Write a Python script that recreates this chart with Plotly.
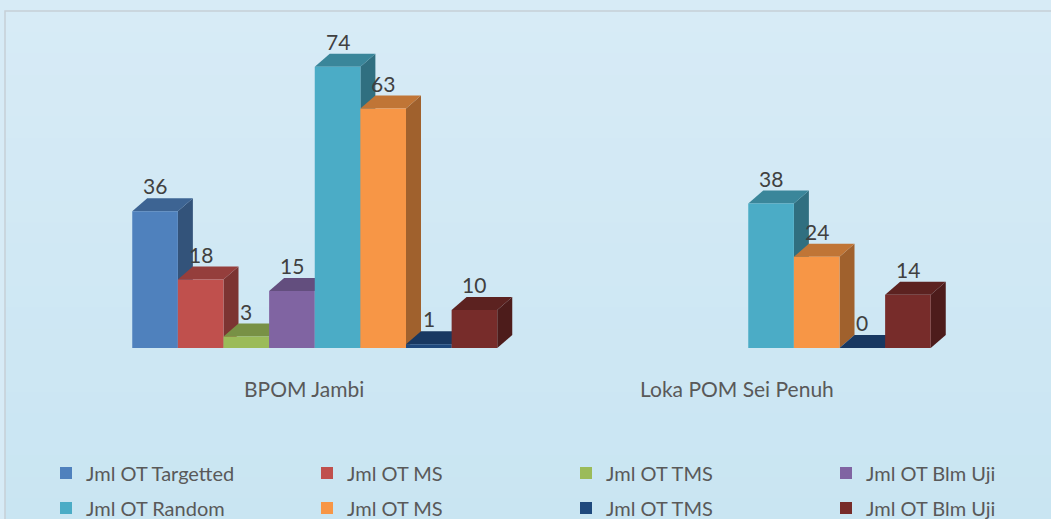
import plotly.graph_objects as go

# ---------------------------------------------------------------- data
categories = ["BPOM Jambi", "Loka POM Sei Penuh"]
series_names = ["Jml OT Targetted", "Jml OT MS", "Jml OT TMS", "Jml OT Blm Uji",
                "Jml OT Random", "Jml OT MS", "Jml OT TMS", "Jml OT Blm Uji"]
targetted = [36, None]
ms_targetted = [18, None]
tms_targetted = [3, None]
blm_uji_targetted = [15, None]
random_ = [74, 38]
ms_random = [63, 24]
tms_random = [1, 0]
blm_uji_random = [10, 14]
series_values = [targetted, ms_targetted, tms_targetted, blm_uji_targetted,
                 random_, ms_random, tms_random, blm_uji_random]
colors = ["#4F81BD", "#C0504D", "#9BBB59", "#8064A2",
          "#4BACC6", "#F79646", "#1F497D", "#772C2A"]

# ---------------------------------------------------------------- geometry
W, H = 1051, 519
ML, MR, MT, MB = 98, 86, 44, 171
Y_MAX = 80
BARGAP = 0.158
plot_w = W - ML - MR
plot_h = H - MT - MB
px_per_cat = plot_w / len(categories)
px_per_unit = plot_h / Y_MAX
DX = 15 / px_per_cat      # depth offset, in category units
DY = 13 / px_per_unit     # depth offset, in value units
n = len(series_values)
bw = (1 - BARGAP) / n

FONT = "Lato"


def shade(hex_color, f):
    r, g, b = (int(hex_color[i:i + 2], 16) for i in (1, 3, 5))
    return "#%02x%02x%02x" % (int(r * f), int(g * f), int(b * f))


def mix(c1, c2, t):
    a = [int(c1[i:i + 2], 16) for i in (1, 3, 5)]
    b = [int(c2[i:i + 2], 16) for i in (1, 3, 5)]
    return "#%02x%02x%02x" % tuple(int(round(p + (q - p) * t)) for p, q in zip(a, b))


def px_to_paper_x(px):
    return (px - ML) / plot_w


def px_to_paper_y(py):
    return (MT + plot_h - py) / plot_h


fig = go.Figure()
for i, (name, vals, col) in enumerate(zip(series_names, series_values, colors)):
    fig.add_trace(go.Bar(
        x=list(range(len(categories))), y=vals, name=name,
        marker=dict(color=col, line=dict(width=0)),
        legend="legend" if i == 0 else f"legend{i + 1}",
        hoverinfo="skip",
    ))

shapes = []
annotations = []

# soft vertical gradient behind the chart
BANDS = 24
for k in range(BANDS):
    y0 = 11 + (H - 11) * k / BANDS
    y1 = 11 + (H - 11) * (k + 1) / BANDS + 1
    shapes.append(dict(
        type="rect", xref="paper", yref="paper", layer="below",
        x0=px_to_paper_x(5), x1=px_to_paper_x(W + 5),
        y0=px_to_paper_y(y1), y1=px_to_paper_y(y0),
        fillcolor=mix("#d7ebf6", "#c9e5f2", k / (BANDS - 1)), line=dict(width=0)))

for i, (vals, col) in enumerate(zip(series_values, colors)):
    for c, v in enumerate(vals):
        if v is None:
            continue
        x0 = c - (1 - BARGAP) / 2 + i * bw
        x1 = x0 + bw
        # side face
        shapes.append(dict(
            type="path", layer="below", xref="x", yref="y",
            path=f"M{x1},0 L{x1 + DX},{DY} L{x1 + DX},{v + DY} L{x1},{v} Z",
            fillcolor=shade(col, 0.65), line=dict(width=0)))
        # top face
        shapes.append(dict(
            type="path", layer="below", xref="x", yref="y",
            path=f"M{x0},{v} L{x1},{v} L{x1 + DX},{v + DY} L{x0 + DX},{v + DY} Z",
            fillcolor=shade(col, 0.78), line=dict(width=0)))
        annotations.append(dict(
            x=(x0 + x1) / 2, y=v, xref="x", yref="y", text=str(v),
            showarrow=False, yanchor="bottom", yshift=11,
            font=dict(family=FONT, size=21, color="#404040")))

for c, cat in enumerate(categories):
    annotations.append(dict(
        x=c, y=0, xref="x", yref="y", text=cat, showarrow=False,
        yanchor="middle", yshift=-40, xshift=-11,
        font=dict(family=FONT, size=21, color="#595959")))

# chart frame
shapes.append(dict(
    type="rect", xref="paper", yref="paper", layer="below",
    x0=px_to_paper_x(5), x1=px_to_paper_x(W + 10),
    y0=px_to_paper_y(H + 10), y1=px_to_paper_y(11),
    line=dict(color="#c6d0d6", width=1.5), fillcolor="rgba(0,0,0,0)"))

# legend: 4 columns x 2 rows, one legend box per entry
legend_cols_px = [46, 307, 566, 826]
legend_rows_px = [473, 508]
legends = {}
for i in range(n):
    key = "legend" if i == 0 else f"legend{i + 1}"
    legends[key] = dict(
        orientation="h", xref="container", yref="container",
        x=legend_cols_px[i % 4] / W, y=(H - legend_rows_px[i // 4]) / H,
        xanchor="left", yanchor="middle",
        bgcolor="rgba(0,0,0,0)", font=dict(family=FONT, size=20, color="#595959"),
        itemclick=False, itemdoubleclick=False)

fig.update_layout(
    width=W, height=H,
    margin=dict(l=ML, r=MR, t=MT, b=MB),
    paper_bgcolor="#d7ebf6", plot_bgcolor="rgba(0,0,0,0)",
    barmode="group", bargap=BARGAP, bargroupgap=0,
    xaxis=dict(range=[-0.5, len(categories) - 0.5], visible=False, fixedrange=True),
    yaxis=dict(range=[0, Y_MAX], visible=False, fixedrange=True),
    shapes=shapes, annotations=annotations,
    showlegend=True,
    **legends,
)

fig.write_html(
    "out.html",
    config={"displayModeBar": False},
    post_script="document.body.style.margin='0';document.body.style.overflow='hidden';",
)
